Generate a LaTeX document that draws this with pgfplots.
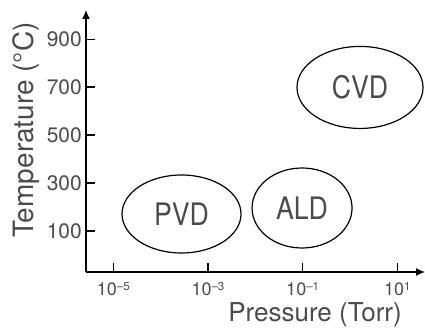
\documentclass[border=0pt]{standalone}
\usepackage{fontspec}
\setmainfont{TeX Gyre Heros}
\newfontfamily\ellfont{TeX Gyre Heros}[FakeStretch=0.86]
\usepackage{pgfplots}
\pgfplotsset{compat=1.18}
\usetikzlibrary{arrows.meta,shapes.geometric}
\definecolor{txt}{RGB}{75,75,75}
\newcommand{\tsup}[1]{\raisebox{5pt}{\fontsize{11.5}{12}\selectfont #1}}
\begin{document}
\begin{tikzpicture}
\useasboundingbox (-86pt,-60pt) rectangle (339pt,272pt);
% x values are log10(pressure / Torr)
\begin{axis}[
  at={(0,0)}, anchor=south west,
  scale only axis, width=339pt, height=262pt,
  xmin=-5.577, xmax=1.585,
  ymin=-71, ymax=1022,
  axis lines=left,
  axis line style={line width=1.4pt, -{Latex[length=9pt,width=8pt]}},
  tick align=inside, major tick length=9pt,
  tick style={line width=1.4pt, black},
  xtick={-5,-3,-1,1},
  xticklabels={10\tsup{\textendash5},10\tsup{\textendash3},10\tsup{\textendash1},10\tsup{1}},
  ytick={100,300,500,700,900},
  yticklabels={100,300,500,700,900},
  xticklabel style={anchor=north, inner sep=0pt, yshift=-10pt, font=\fontsize{18}{20}\selectfont, text=txt},
  yticklabel style={anchor=east, inner sep=0pt, xshift=-4pt, font=\fontsize{21}{24}\selectfont, text=txt},
  xlabel={Pressure (Torr)},
  ylabel={Temperature (°C)},
  xlabel style={at={(axis description cs:0.932,-0.1908)}, anchor=base east, inner sep=0pt, font=\fontsize{26}{30}\selectfont, text=txt},
  ylabel style={at={(axis description cs:-0.1563,0.542)}, anchor=base, inner sep=0pt, font=\fontsize{28}{32}\selectfont, text=txt},
  clip=false,
]
\addplot[draw=none, mark=none, nodes near coords={PVD}, nodes near coords align={anchor=center},
  every node near coord/.append style={draw=black, line width=1.2pt, ellipse, inner sep=0pt,
  minimum width=119pt, minimum height=78pt, font=\fontsize{31}{34}\selectfont\ellfont, text=txt}]
  coordinates {(-3.559,171)};
\addplot[draw=none, mark=none, nodes near coords={ALD}, nodes near coords align={anchor=center},
  every node near coord/.append style={draw=black, line width=1.2pt, ellipse, inner sep=0pt,
  minimum width=100pt, minimum height=80pt, font=\fontsize{31}{34}\selectfont\ellfont, text=txt}]
  coordinates {(-1.013,196)};
\addplot[draw=none, mark=none, nodes near coords={CVD}, nodes near coords align={anchor=center},
  every node near coord/.append style={draw=black, line width=1.2pt, ellipse, inner sep=0pt,
  minimum width=126pt, minimum height=82pt, font=\fontsize{31}{34}\selectfont\ellfont, text=txt}]
  coordinates {(0.212,699)};
\end{axis}
\end{tikzpicture}
\end{document}
